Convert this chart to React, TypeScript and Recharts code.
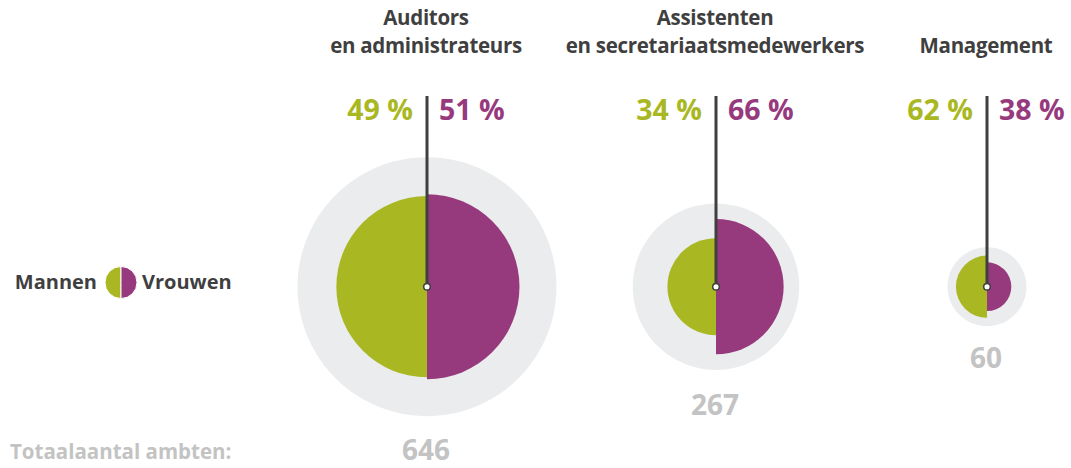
import React from "react";
import { PieChart, Pie, Cell } from "recharts";

// data
const groupTitles = [
  ["Auditors", "en administrateurs"],
  ["Assistenten", "en secretariaatsmedewerkers"],
  ["Management"],
];
const totals = [646, 267, 60];
const menPct = [49, 34, 62];
const womenPct = [51, 66, 38];

const legendLabels = ["Mannen", "Vrouwen"];
const totalLabel = "Totaalaantal ambten:";

// layout
const W = 1071;
const H = 468;
const CY = 286.7;
const centersX = [427, 716, 987];
const R_SCALE = 129.5 / Math.sqrt(646);
const FONT = "'Open Sans', 'Noto Sans', sans-serif";

const GREEN = "#a9b723";
const PURPLE = "#963a7d";
const GREY_BG = "#ebecee";
const DARK = "#3f3f3f";
const LIGHT = "#c3c3c3";

const radius = (count: number) => R_SCALE * Math.sqrt(count);
const one = [{ value: 1 }];

// pointer line + centre dot, drawn as the label of the last pie so it sits on top
const pointer = (cx: number) => () =>
  (
    <g>
      <line x1={cx} x2={cx} y1={96} y2={CY} stroke={DARK} strokeWidth={3} />
      <circle cx={cx} cy={CY} r={3.3} fill="#fff" stroke={DARK} strokeWidth={1.5} />
    </g>
  );

export default function App() {
  return (
    <div style={{ position: "absolute", left: 0, top: 0, width: W, height: H }}>
      <PieChart width={W} height={H} margin={{ top: 0, right: 0, bottom: 0, left: 0 }}>
        {totals.map((t, i) => (
          <Pie
            key={`bg-${i}`}
            data={one}
            dataKey="value"
            cx={centersX[i]}
            cy={CY}
            outerRadius={radius(t)}
            innerRadius={0}
            stroke="none"
            isAnimationActive={false}
          >
            <Cell fill={GREY_BG} />
          </Pie>
        ))}
        {totals.map((t, i) => (
          <Pie
            key={`men-${i}`}
            data={one}
            dataKey="value"
            cx={centersX[i]}
            cy={CY}
            startAngle={90}
            endAngle={270}
            outerRadius={radius((t * menPct[i]) / 100)}
            stroke="none"
            isAnimationActive={false}
          >
            <Cell fill={GREEN} />
          </Pie>
        ))}
        {totals.map((t, i) => (
          <Pie
            key={`women-${i}`}
            data={one}
            dataKey="value"
            cx={centersX[i]}
            cy={CY}
            startAngle={90}
            endAngle={-90}
            outerRadius={radius((t * womenPct[i]) / 100)}
            stroke="none"
            label={pointer(centersX[i])}
            labelLine={false}
            isAnimationActive={false}
          >
            <Cell fill={PURPLE} />
          </Pie>
        ))}

        {/* legend icon */}
        <Pie
          data={one}
          dataKey="value"
          cx={121}
          cy={282.5}
          startAngle={90}
          endAngle={270}
          outerRadius={16}
          stroke="#fff"
          strokeWidth={1}
          isAnimationActive={false}
        >
          <Cell fill={GREEN} />
        </Pie>
        <Pie
          data={one}
          dataKey="value"
          cx={121}
          cy={282.5}
          startAngle={90}
          endAngle={-90}
          outerRadius={16}
          stroke="#fff"
          strokeWidth={1}
          isAnimationActive={false}
        >
          <Cell fill={PURPLE} />
        </Pie>

        {centersX.map((cx, i) => (
          <g key={`ann-${i}`} fontFamily={FONT} fontWeight={700}>
            {groupTitles[i].map((line, j) => (
              <text
                key={j}
                x={cx - 1}
                y={groupTitles[i].length === 1 ? 53 : 25 + j * 28}
                textAnchor="middle"
                fontSize={20.5}
                letterSpacing={-0.3}
                fill={DARK}
              >
                {line}
              </text>
            ))}
            <text x={cx - 14} y={120} textAnchor="end" fontSize={28.5} fill={GREEN}>
              {`${menPct[i]} %`}
            </text>
            <text x={cx + 12} y={120} textAnchor="start" fontSize={28.5} fill={PURPLE}>
              {`${womenPct[i]} %`}
            </text>
            <text
              x={cx - 1}
              y={Math.min(CY + radius(totals[i]) * 1.07 + 39, 460)}
              textAnchor="middle"
              fontSize={28}
              fill={LIGHT}
            >
              {totals[i]}
            </text>
          </g>
        ))}

        <g fontFamily={FONT} fontWeight={700}>
          <text x={97} y={289} textAnchor="end" fontSize={20} fill={DARK}>
            {legendLabels[0]}
          </text>
          <text x={142} y={289} textAnchor="start" fontSize={20} fill={DARK}>
            {legendLabels[1]}
          </text>
          <text x={10} y={459} textAnchor="start" fontSize={20.5} fill={LIGHT}>
            {totalLabel}
          </text>
        </g>
      </PieChart>
    </div>
  );
}
